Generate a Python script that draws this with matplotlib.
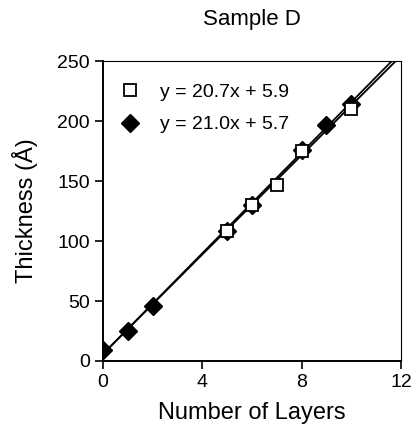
import numpy as np
import matplotlib.pyplot as plt

plt.rcParams['font.family'] = ['Liberation Sans', 'DejaVu Sans']

# measured thickness for each number of layers
x_sq = [5, 6, 7, 8, 10]
y_sq = [108, 130, 147, 175, 210]
x_dm = [0, 1, 2, 5, 6, 8, 9, 10]
y_dm = [9, 25, 46, 108, 130, 176, 197, 214]

# linear fits (slope, intercept)
fit_sq = (20.7, 5.9)
fit_dm = (21.0, 5.7)
lab_sq = "y = 20.7x + 5.9"
lab_dm = "y = 21.0x + 5.7"

fig = plt.figure(figsize=(4.15, 4.3), dpi=100)
ax = fig.add_axes([0.248, 0.1605, 0.718, 0.6975])

xf = np.array([0, 12])
ax.plot(xf, fit_sq[0]*xf + fit_sq[1], color='black', lw=1.3, zorder=1)
ax.plot(xf, fit_dm[0]*xf + fit_dm[1], color='black', lw=1.3, zorder=1)

ax.plot(x_dm, y_dm, 'D', color='black', ms=9.5, ls='none', label=lab_dm, zorder=3)
ax.plot(x_sq, y_sq, 's', mfc='white', mec='black', mew=1.3, ms=8, ls='none',
        label=lab_sq, zorder=4)

h, l = ax.get_legend_handles_labels()
ax.legend(h[::-1], l[::-1], loc='upper left', bbox_to_anchor=(0.057, 0.925),
          frameon=False, fontsize=14, handlelength=1.0, handletextpad=1.05,
          borderpad=0, borderaxespad=0, labelspacing=0.75)

ax.set_xlim(0, 12)
ax.set_ylim(0, 250)
ax.set_xticks([0, 4, 8, 12])
ax.set_yticks([0, 50, 100, 150, 200, 250])
ax.tick_params(direction='out', length=6, width=1.2, labelsize=14)
for s in ['left', 'bottom']:
    ax.spines[s].set_linewidth(1.4)
for s in ['top', 'right']:
    ax.spines[s].set_linewidth(0.8)

ax.set_xlabel("Number of Layers", fontsize=17, labelpad=8)
ax.set_ylabel("Thickness (Å)", fontsize=17, labelpad=14)
ax.set_title("Sample D", fontsize=16, pad=26)

fig.savefig("out.png", dpi=100)
